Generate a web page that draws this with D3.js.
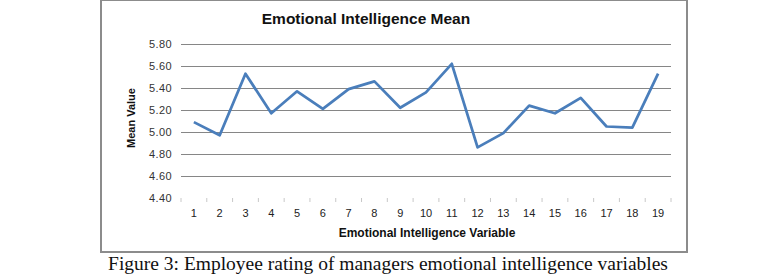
<!DOCTYPE html>
<html>
<head>
<meta charset="utf-8">
<script src="https://cdn.jsdelivr.net/npm/d3@7"></script>
<style>
  body { margin: 0; background: #fff; }
  svg { display: block; }
</style>
</head>
<body>
<svg id="chart"></svg>
<script>
const width = 774;
const height = 276;

// data
const categories = ['1','2','3','4','5','6','7','8','9','10','11','12','13','14','15','16','17','18','19'];
const means = [5.09, 4.97, 5.53, 5.17, 5.37, 5.21, 5.39, 5.46, 5.22, 5.36, 5.62, 4.86, 4.99, 5.24, 5.17, 5.31, 5.05, 5.04, 5.53];
const yTicks = [4.40, 4.60, 4.80, 5.00, 5.20, 5.40, 5.60, 5.80];

const title = 'Emotional Intelligence Mean';
const xTitle = 'Emotional Intelligence Variable';
const yTitle = 'Mean Value';
const caption = 'Figure 3: Employee rating of managers emotional intelligence variables';

const sans = 'Liberation Sans, Arial, sans-serif';

const svg = d3.select('#chart')
  .attr('width', width)
  .attr('height', height);

const plot = {left: 181, right: 671, top: 44, bottom: 198};

const x = d3.scaleBand().domain(categories).range([plot.left, plot.right]);
const y = d3.scaleLinear().domain([4.4, 5.8]).range([plot.bottom, plot.top]);

// chart frame
svg.append('rect')
  .attr('x', 101).attr('y', 0)
  .attr('width', 586).attr('height', 252)
  .attr('fill', '#fff')
  .attr('stroke', '#8c8c8c')
  .attr('stroke-width', 2);

// gridlines
svg.append('g')
  .selectAll('line')
  .data(yTicks.filter(d => d > 4.4))
  .join('line')
  .attr('x1', plot.left).attr('x2', plot.right)
  .attr('y1', d => Math.round(y(d)) + 0.5)
  .attr('y2', d => Math.round(y(d)) + 0.5)
  .attr('stroke', '#868686')
  .attr('stroke-width', 1);

// y axis labels
const yAxis = svg.append('g')
  .attr('transform', `translate(${plot.left}, 0)`)
  .call(d3.axisLeft(y).tickValues(yTicks).tickFormat(d3.format('.2f')).tickSize(0).tickPadding(9));
yAxis.select('.domain').remove();
yAxis.selectAll('text')
  .attr('font-family', sans)
  .attr('font-size', 11)
  .attr('letter-spacing', 0.4)
  .attr('fill', '#333');

// x axis: only small ticks between categories
const xAxis = svg.append('g')
  .attr('transform', `translate(0, ${plot.bottom})`);
xAxis.selectAll('line')
  .data(d3.range(categories.length + 1))
  .join('line')
  .attr('x1', i => plot.left + i * x.bandwidth())
  .attr('x2', i => plot.left + i * x.bandwidth())
  .attr('y1', 0).attr('y2', 4)
  .attr('stroke', '#c8c8c8');
xAxis.selectAll('text')
  .data(categories)
  .join('text')
  .attr('x', d => x(d) + x.bandwidth() / 2)
  .attr('y', 19)
  .attr('text-anchor', 'middle')
  .attr('font-family', sans)
  .attr('font-size', 11)
  .attr('fill', '#222')
  .text(d => d);

// line
const line = d3.line()
  .x((d, i) => x(categories[i]) + x.bandwidth() / 2)
  .y(d => y(d));

svg.append('path')
  .datum(means)
  .attr('fill', 'none')
  .attr('stroke', '#4a7ebb')
  .attr('stroke-width', 2.75)
  .attr('stroke-linejoin', 'round')
  .attr('d', line);

// titles
svg.append('text')
  .attr('x', 366).attr('y', 24)
  .attr('text-anchor', 'middle')
  .attr('font-family', sans)
  .attr('font-weight', 'bold')
  .attr('font-size', 15.5)
  .attr('fill', '#111')
  .text(title);

svg.append('text')
  .attr('x', 427).attr('y', 237)
  .attr('text-anchor', 'middle')
  .attr('font-family', sans)
  .attr('font-weight', 'bold')
  .attr('font-size', 12)
  .attr('fill', '#111')
  .text(xTitle);

svg.append('text')
  .attr('transform', 'translate(135, 118) rotate(-90)')
  .attr('text-anchor', 'middle')
  .attr('font-family', sans)
  .attr('font-weight', 'bold')
  .attr('font-size', 11)
  .attr('fill', '#111')
  .text(yTitle);

// caption below the chart
svg.append('text')
  .attr('x', 388).attr('y', 270)
  .attr('text-anchor', 'middle')
  .attr('font-family', 'Liberation Serif, Times New Roman, serif')
  .attr('font-size', 19.5)
  .attr('fill', '#111')
  .text(caption);
</script>
</body>
</html>
